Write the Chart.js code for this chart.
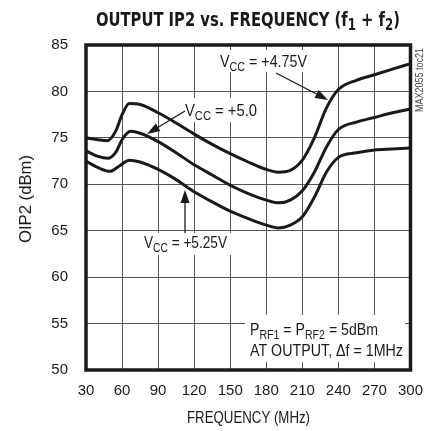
<!DOCTYPE html>
<html>
<head>
<meta charset="utf-8">
<script src="https://cdn.jsdelivr.net/npm/chart.js@4.4.1/dist/chart.umd.min.js"></script>
<style>
html, body { margin: 0; padding: 0; background: #fff; }
</style>
</head>
<body>
<canvas id="c" width="435" height="431"></canvas>
<script>
// OIP2 vs frequency, three supply voltages

const freq475 = [30, 40, 48, 55, 60, 66, 75, 90, 105, 120, 135, 150, 165, 180, 190, 200, 210, 220, 230, 240, 255, 270, 285, 300];
const oip475  = [75.0, 74.8, 74.7, 75.8, 77.5, 78.7, 78.6, 77.7, 76.6, 75.4, 74.3, 73.3, 72.4, 71.6, 71.3, 71.5, 72.6, 75.0, 78.2, 80.2, 81.2, 81.8, 82.4, 83.0];

const freq500 = [30, 40, 48, 55, 60, 67, 75, 90, 105, 120, 135, 150, 165, 180, 190, 200, 210, 220, 230, 240, 255, 270, 285, 300];
const oip500  = [73.6, 73.0, 72.8, 73.5, 74.8, 75.7, 75.5, 74.6, 73.4, 72.1, 71.0, 69.9, 69.0, 68.3, 68.0, 68.3, 69.3, 71.3, 74.0, 75.9, 76.7, 77.2, 77.7, 78.1];

const freq525 = [30, 40, 50, 58, 66, 75, 90, 105, 120, 135, 150, 165, 180, 190, 200, 210, 220, 230, 240, 255, 270, 285, 300];
const oip525  = [72.5, 71.8, 71.4, 72.0, 72.6, 72.4, 71.6, 70.5, 69.2, 68.1, 67.1, 66.3, 65.6, 65.3, 65.6, 66.5, 68.6, 71.3, 72.9, 73.4, 73.7, 73.8, 73.9];

const xTicks = [30, 60, 90, 120, 150, 180, 210, 240, 270, 300];
const yTicks = [50, 55, 60, 65, 70, 75, 80, 85];

const FONT = "'Liberation Sans', Arial, sans-serif";
const TITLE_FONT = "'DejaVu Sans Condensed', 'Liberation Sans', sans-serif";
const INK = '#1a1a1a';

function pairs(xs, ys) {
    return xs.map((x, i) => ({ x: x, y: ys[i] }));
}

function lineSet(label, data) {
    return {
        label: label,
        data: data,
        borderColor: INK,
        borderWidth: 3,
        pointRadius: 0,
        fill: false,
        cubicInterpolationMode: 'monotone'
    };
}

// text with subscripts, squeezed to a given width
function richText(ctx, parts, x, y, width, size, weight, family) {
    weight = weight || 'normal';
    family = family || FONT;
    const subSize = Math.round(size * 0.78);
    let total = 0;
    parts.forEach(p => {
        ctx.font = `${weight} ${p[1] ? subSize : size}px ${family}`;
        total += ctx.measureText(p[0]).width;
    });
    const k = width ? width / total : 1;
    ctx.save();
    ctx.translate(x, y);
    ctx.scale(k, 1);
    ctx.textBaseline = 'alphabetic';
    ctx.textAlign = 'left';
    ctx.fillStyle = INK;
    let cx = 0;
    parts.forEach(p => {
        ctx.font = `${weight} ${p[1] ? subSize : size}px ${family}`;
        ctx.fillText(p[0], cx, p[1] ? size * 0.22 : 0);
        cx += ctx.measureText(p[0]).width;
    });
    ctx.restore();
}

function arrow(ctx, x1, y1, x2, y2) {
    const ang = Math.atan2(y2 - y1, x2 - x1);
    const len = 13, half = 4.5;
    ctx.save();
    ctx.strokeStyle = INK;
    ctx.fillStyle = INK;
    ctx.lineWidth = 1.3;
    ctx.beginPath();
    ctx.moveTo(x1, y1);
    ctx.lineTo(x2 - Math.cos(ang) * len, y2 - Math.sin(ang) * len);
    ctx.stroke();
    ctx.beginPath();
    ctx.moveTo(x2, y2);
    ctx.lineTo(x2 - Math.cos(ang) * len - Math.sin(ang) * half, y2 - Math.sin(ang) * len + Math.cos(ang) * half);
    ctx.lineTo(x2 - Math.cos(ang) * len + Math.sin(ang) * half, y2 - Math.sin(ang) * len - Math.cos(ang) * half);
    ctx.closePath();
    ctx.fill();
    ctx.restore();
}

const decor = {
    id: 'decor',
    beforeDatasetsDraw(chart) {
        const ctx = chart.ctx;
        ctx.save();
        ctx.fillStyle = '#fff';
        // label backgrounds hide the grid
        ctx.fillRect(216, 50, 95, 22);
        ctx.fillRect(181, 98, 80, 24);
        ctx.fillRect(140, 233, 92, 22);
        ctx.fillRect(245, 315, 160, 47);
        ctx.restore();

        richText(ctx, [['V', 0], ['CC', 1], [' = +4.75V', 0]], 220, 67, 87, 16);
        richText(ctx, [['V', 0], ['CC', 1], [' = +5.0', 0]], 185, 116, 72, 16);
        richText(ctx, [['V', 0], ['CC', 1], [' = +5.25V', 0]], 144, 248, 83, 16);
        richText(ctx, [['P', 0], ['RF1', 1], [' = P', 0], ['RF2', 1], [' = 5dBm', 0]], 250, 335, 128, 16);
        richText(ctx, [['AT OUTPUT, \u0394f = 1MHz', 0]], 250, 356, 153, 16);
    },
    afterDatasetsDraw(chart) {
        const ctx = chart.ctx;
        arrow(ctx, 276, 73, 328, 100);
        arrow(ctx, 185, 111, 147, 134);
        arrow(ctx, 185, 233, 185, 190);
    },
    afterDraw(chart) {
        const ctx = chart.ctx;
        const a = chart.chartArea;
        ctx.save();
        ctx.strokeStyle = INK;
        ctx.lineWidth = 3.5;
        ctx.strokeRect(a.left, a.top, a.right - a.left, a.bottom - a.top);
        ctx.restore();

        // title
        richText(ctx, [['OUTPUT IP2 vs. FREQUENCY (f', 0], ['1', 1], [' + f', 0], ['2', 1], [')', 0]], 96, 26, 304, 20, 'bold', TITLE_FONT);

        // axis titles
        richText(ctx, [['FREQUENCY (MHz)', 0]], 187, 423, 123, 16);
        ctx.save();
        ctx.translate(31, 243);
        ctx.rotate(-Math.PI / 2);
        richText(ctx, [['OIP2 (dBm)', 0]], 0, 0, 88, 16);
        ctx.restore();

        // figure id along the right edge
        ctx.save();
        ctx.translate(423, 112);
        ctx.rotate(-Math.PI / 2);
        ctx.font = `10px ${FONT}`;
        const w = ctx.measureText('MAX2055 toc21').width;
        ctx.scale(64 / w, 1);
        ctx.fillStyle = '#444';
        ctx.fillText('MAX2055 toc21', 0, 0);
        ctx.restore();
    }
};

new Chart(document.getElementById('c'), {
    type: 'line',
    data: {
        datasets: [
            lineSet('VCC = +4.75V', pairs(freq475, oip475)),
            lineSet('VCC = +5.0V', pairs(freq500, oip500)),
            lineSet('VCC = +5.25V', pairs(freq525, oip525))
        ]
    },
    options: {
        responsive: false,
        animation: false,
        layout: { padding: { top: 45, right: 22, left: 0, bottom: 0 } },
        plugins: {
            legend: { display: false },
            tooltip: { enabled: false }
        },
        scales: {
            x: {
                type: 'linear',
                min: 30,
                max: 300,
                afterBuildTicks: s => { s.ticks = xTicks.map(v => ({ value: v })); },
                afterFit: s => { s.height = 61; },
                grid: { color: '#555', lineWidth: 1, drawTicks: false },
                border: { display: false },
                ticks: { color: INK, padding: 12, font: { family: FONT, size: 15 }, maxRotation: 0 }
            },
            y: {
                min: 50,
                max: 85,
                afterBuildTicks: s => { s.ticks = yTicks.map(v => ({ value: v })); },
                afterFit: s => { s.width = 86; },
                grid: { color: '#555', lineWidth: 1, drawTicks: false },
                border: { display: false },
                ticks: { color: INK, padding: 18, font: { family: FONT, size: 15 } }
            }
        }
    },
    plugins: [decor]
});
</script>
</body>
</html>
